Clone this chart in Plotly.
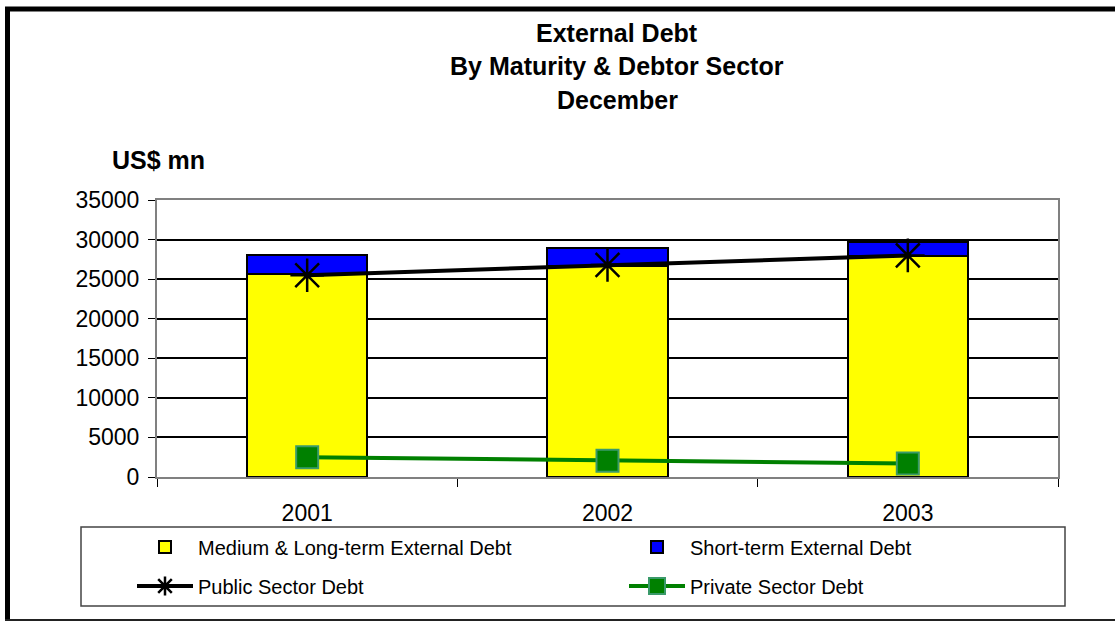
import plotly.graph_objects as go

# --- data (US$ mn, end of December) ---
years = ["2001", "2002", "2003"]
medium_long_term = [25600, 26600, 27900]
short_term = [2400, 2300, 1800]
public_sector = [25500, 26800, 28000]
private_sector = [2500, 2050, 1700]
y_tick_values = [0, 5000, 10000, 15000, 20000, 25000, 30000, 35000]
y_tick_labels = [str(v) for v in y_tick_values]

FONT = "Liberation Sans, Arial, sans-serif"

# canvas and plot-area geometry (pixels)
W, H = 1115, 621
ML, MR, MT, MB = 157, 57, 200, 144
PW = W - ML - MR
PH = H - MT - MB


def px(x):
    """pixel x -> paper x"""
    return (x - ML) / PW


def py(y):
    """pixel y (from top) -> paper y"""
    return (H - MB - y) / PH


fig = go.Figure()

fig.add_trace(go.Bar(
    x=years, y=medium_long_term, name="Medium & Long-term External Debt",
    marker=dict(color="#FFFF00", line=dict(color="#000000", width=2)),
    width=0.4, legend="legend",
))
fig.add_trace(go.Bar(
    x=years, y=short_term, name="Short-term External Debt",
    marker=dict(color="#0000FF", line=dict(color="#000000", width=2)),
    width=0.4, legend="legend",
))
fig.add_trace(go.Scatter(
    x=years, y=public_sector, name="Public Sector Debt", mode="lines+markers",
    line=dict(color="#000000", width=4),
    marker=dict(symbol="asterisk-open", size=28, color="#000000",
                line=dict(color="#000000", width=2.5)),
    legend="legend2",
))
fig.add_trace(go.Scatter(
    x=years, y=private_sector, name="Private Sector Debt", mode="lines+markers",
    line=dict(color="#008000", width=4),
    marker=dict(symbol="square", size=22, color="#008000",
                line=dict(color="#3A9A6A", width=2)),
    legend="legend2",
))

# title lines and unit label
annotations = []
for text, yc in [("External Debt", 33), ("By Maturity & Debtor Sector", 66), ("December", 100)]:
    annotations.append(dict(
        text=f"<b>{text}</b>", x=px(617), y=py(yc), xref="paper", yref="paper",
        xanchor="center", yanchor="middle", showarrow=False,
        font=dict(family=FONT, size=25, color="#000000"),
    ))
annotations.append(dict(
    text="<b>US$ mn</b>", x=px(110), y=py(160), xref="paper", yref="paper",
    xanchor="left", yanchor="middle", showarrow=False,
    font=dict(family=FONT, size=25, color="#000000"),
))

shapes = [
    # outer frame
    dict(type="line", xref="paper", yref="paper", x0=px(7.5), x1=px(7.5), y0=py(7), y1=py(630),
         line=dict(color="#000000", width=5)),
    dict(type="line", xref="paper", yref="paper", x0=px(5), x1=px(1130), y0=py(9), y1=py(9),
         line=dict(color="#000000", width=5)),
    dict(type="line", xref="paper", yref="paper", x0=px(5), x1=px(1130), y0=py(620), y1=py(620),
         line=dict(color="#222222", width=2)),
    # legend box
    dict(type="rect", xref="paper", yref="paper", x0=px(81), x1=px(1065), y0=py(527), y1=py(606),
         line=dict(color="#444444", width=1.5), fillcolor="rgba(0,0,0,0)", layer="below"),
]

legend_common = dict(
    orientation="h", xanchor="left", yanchor="middle",
    font=dict(family=FONT, size=20, color="#000000"),
    bgcolor="rgba(0,0,0,0)", borderwidth=0,
    itemwidth=56,
    entrywidth=421, entrywidthmode="pixels", traceorder="normal",
)

fig.update_layout(
    width=W, height=H,
    margin=dict(l=ML, r=MR, t=MT, b=MB, autoexpand=False),
    paper_bgcolor="#FFFFFF", plot_bgcolor="#FFFFFF",
    barmode="stack",
    showlegend=True,
    legend=dict(x=px(132), y=py(547), **legend_common),
    legend2=dict(x=px(132), y=py(586), **legend_common),
    annotations=annotations,
    shapes=shapes,
    font=dict(family=FONT, color="#000000"),
)

fig.update_xaxes(
    type="category", tickson="boundaries", ticks="outside", ticklen=8,
    tickcolor="#000000", tickwidth=1,
    showline=True, linecolor="#808080", linewidth=2, mirror=True,
    showgrid=False, tickfont=dict(family=FONT, size=23, color="#000000"),
    ticklabelstandoff=14,
)
fig.update_yaxes(
    range=[0, 35000], tickvals=y_tick_values, ticktext=y_tick_labels,
    ticks="outside", ticklen=7, tickcolor="#000000", tickwidth=1,
    showline=True, linecolor="#808080", linewidth=2, mirror=True,
    showgrid=True, gridcolor="#000000", gridwidth=2, zeroline=False,
    tickfont=dict(family=FONT, size=23, color="#000000"),
    ticklabelstandoff=4,
)

fig.write_html("out.html")
